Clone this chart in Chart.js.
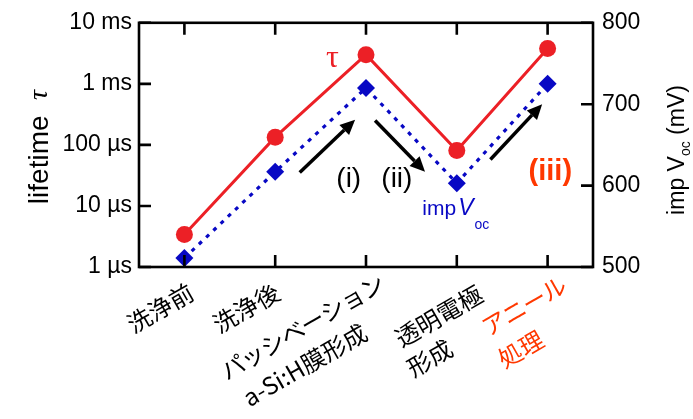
<!DOCTYPE html>
<html>
<head>
<meta charset="utf-8">
<script src="https://cdn.jsdelivr.net/npm/chart.js@4.4.1/dist/chart.umd.min.js"></script>
<style>
  html, body { margin: 0; padding: 0; background: #fff; }
  canvas { display: block; }
</style>
</head>
<body>
<canvas id="grafica" width="693" height="419"></canvas>
<script>
// --- DATOS ---
const categorias = [['洗浄前'], ['洗浄後'], ['パッシベーション', 'a-Si:H膜形成'], ['透明電極', '形成'], ['アニール', '処理']];
const tau = [3.4, 134, 3000, 81, 3800];      // µs
const impVoc = [511, 617, 720, 603, 725];    // mV
const ticksTau = [1, 10, 100, 1000, 10000];
const etiquetasTau = ['1 µs', '10 µs', '100 µs', '1 ms', '10 ms'];
const ticksVoc = [500, 600, 700, 800];

// --- ESTILOS / POSICIONES DE ANOTACIONES ---
const ROJO = 'rgb(236, 32, 38)';
const AZUL = 'rgb(8, 8, 196)';
const NARANJA = 'rgb(255, 56, 0)';

// flechas en [indice categoria, mV]
const flechas = [
    [[1.27, 616], [1.88, 681]],
    [[2.10, 680], [2.65, 617]],
    [[3.37, 632], [3.94, 700]]
];
// desplazamiento del centro de cada linea de etiqueta respecto al tick (px)
const posEtiquetas = [
    [[-24, 41]],
    [[-29, 41]],
    [[-64, 60], [-61, 98]],
    [[-18, 49], [-27, 91]],
    [[-24, 39], [-27, 82]]
];

function dibujarFlecha(ctx, x0, y0, x1, y1) {
    const ang = Math.atan2(y1 - y0, x1 - x0);
    const largo = 15, ancho = 7;
    const xb = x1 - largo * Math.cos(ang), yb = y1 - largo * Math.sin(ang);
    ctx.beginPath();
    ctx.moveTo(x0, y0);
    ctx.lineTo(xb, yb);
    ctx.stroke();
    ctx.beginPath();
    ctx.moveTo(x1, y1);
    ctx.lineTo(xb + ancho * Math.sin(ang), yb - ancho * Math.cos(ang));
    ctx.lineTo(xb - ancho * Math.sin(ang), yb + ancho * Math.cos(ang));
    ctx.closePath();
    ctx.fill();
}

// --- PLUGIN: marco, ticks hacia dentro, etiquetas y anotaciones ---
const pluginDecoracion = {
    id: 'decoracion',
    afterDraw(chart) {
        const ctx = chart.ctx;
        const a = chart.chartArea;
        const sx = chart.scales.x, sy = chart.scales.y, sv = chart.scales.y2;
        const tl = 12;

        ctx.save();
        ctx.strokeStyle = '#000';
        ctx.lineWidth = 2.6;
        ctx.strokeRect(a.left, a.top, a.right - a.left, a.bottom - a.top);

        ctx.beginPath();
        categorias.forEach((c, i) => {
            const x = sx.getPixelForValue(i);
            ctx.moveTo(x, a.top); ctx.lineTo(x, a.top + tl);
            ctx.moveTo(x, a.bottom); ctx.lineTo(x, a.bottom - tl);
        });
        ticksTau.forEach(v => {
            const y = sy.getPixelForValue(v);
            ctx.moveTo(a.left, y); ctx.lineTo(a.left + tl, y);
        });
        ticksVoc.forEach(v => {
            const y = sv.getPixelForValue(v);
            ctx.moveTo(a.right, y); ctx.lineTo(a.right - tl, y);
        });
        ctx.stroke();

        // etiquetas del eje x, giradas 30 grados
        ctx.font = '24px "Noto Sans CJK JP"';
        ctx.textAlign = 'center';
        ctx.textBaseline = 'middle';
        categorias.forEach((lineas, i) => {
            const x = sx.getPixelForValue(i);
            ctx.fillStyle = i === categorias.length - 1 ? NARANJA : '#000';
            lineas.forEach((txt, j) => {
                const [dx, dy] = posEtiquetas[i][j];
                ctx.save();
                ctx.translate(x + dx, a.bottom + dy);
                ctx.rotate(-30 * Math.PI / 180);
                ctx.letterSpacing = /[ァ-ン]/.test(txt) ? '-1px' : '0px';
                ctx.fillText(txt, 0, 0);
                ctx.restore();
            });
        });

        // titulo eje izquierdo
        ctx.save();
        ctx.translate(40, 147);
        ctx.rotate(-Math.PI / 2);
        ctx.fillStyle = '#000';
        ctx.textBaseline = 'middle';
        ctx.textAlign = 'left';
        ctx.font = '28px "Liberation Sans"';
        const w1 = ctx.measureText('lifetime  ').width;
        ctx.font = 'italic 28px "Liberation Serif"';
        const w2 = ctx.measureText('τ').width;
        let x0 = -(w1 + w2) / 2;
        ctx.font = '28px "Liberation Sans"';
        ctx.fillText('lifetime  ', x0, 0);
        ctx.font = 'italic 28px "Liberation Serif"';
        ctx.fillText('τ', x0 + w1, 0);
        ctx.restore();

        // titulo eje derecho
        ctx.save();
        ctx.translate(684, 150);
        ctx.rotate(-Math.PI / 2);
        ctx.fillStyle = '#000';
        ctx.textBaseline = 'alphabetic';
        ctx.textAlign = 'left';
        const partes = [['imp V', '23px "Liberation Sans"', 0], ['oc', '14px "Liberation Sans"', 6], [' (mV)', '23px "Liberation Sans"', 0]];
        let total = 0;
        partes.forEach(p => { ctx.font = p[1]; total += ctx.measureText(p[0]).width; });
        let xp = -total / 2;
        partes.forEach(p => {
            ctx.font = p[1];
            ctx.fillText(p[0], xp, p[2]);
            xp += ctx.measureText(p[0]).width;
        });
        ctx.restore();

        // anotaciones dentro del grafico
        const px = i => sx.getPixelForValue(i);
        const py = v => sv.getPixelForValue(v);

        ctx.fillStyle = '#000';
        ctx.strokeStyle = '#000';
        ctx.lineWidth = 3.5;
        flechas.forEach(([p0, p1]) => dibujarFlecha(ctx, px(p0[0]), py(p0[1]), px(p1[0]), py(p1[1])));

        ctx.textAlign = 'center';
        ctx.textBaseline = 'middle';
        ctx.font = '28px "Liberation Sans"';
        ctx.fillText('(i)', px(1.81), py(608));
        ctx.fillText('(ii)', px(2.34), py(608));

        ctx.fillStyle = NARANJA;
        ctx.font = 'bold 29px "Liberation Sans"';
        ctx.fillText('(iii)', px(4.03), py(617));

        ctx.fillStyle = ROJO;
        ctx.font = '32px "Liberation Serif"';
        ctx.fillText('τ', px(1.63), py(756));

        // imp V_oc
        ctx.fillStyle = AZUL;
        ctx.textAlign = 'left';
        ctx.textBaseline = 'alphabetic';
        let xi = px(2.62);
        const yi = py(564);
        ctx.font = '21px "Liberation Sans"';
        ctx.fillText('imp', xi, yi);
        xi += ctx.measureText('imp').width + 2;
        ctx.font = 'italic 23px "Liberation Sans"';
        ctx.fillText('V', xi, yi);
        xi += ctx.measureText('V').width + 1;
        ctx.font = '14px "Liberation Sans"';
        ctx.fillText('oc', xi, yi + 14);

        ctx.restore();
    }
};

// --- GRAFICA ---
const ctx = document.getElementById('grafica').getContext('2d');
new Chart(ctx, {
    type: 'line',
    data: {
        labels: categorias,
        datasets: [{
            label: 'τ',
            data: tau,
            yAxisID: 'y',
            borderColor: ROJO,
            backgroundColor: ROJO,
            borderWidth: 3,
            pointStyle: 'circle',
            pointRadius: 8.5,
            pointBorderWidth: 0,
            tension: 0
        }, {
            label: 'impVoc',
            data: impVoc,
            yAxisID: 'y2',
            borderColor: AZUL,
            backgroundColor: AZUL,
            borderWidth: 3.2,
            borderDash: [4, 6],
            pointStyle: 'rectRot',
            pointRadius: 9,
            pointBorderWidth: 0,
            tension: 0
        }]
    },
    options: {
        responsive: false,
        animation: false,
        devicePixelRatio: 1,
        layout: { padding: { top: 19, bottom: 152, left: 0, right: 0 } },
        plugins: { legend: { display: false }, tooltip: { enabled: false } },
        scales: {
            x: {
                offset: true,
                grid: { display: false },
                border: { display: false },
                ticks: { display: false },
                afterFit: s => { s.height = 0; }
            },
            y: {
                type: 'logarithmic',
                position: 'left',
                min: 1,
                max: 10000,
                grid: { display: false, drawTicks: false },
                border: { display: false },
                afterBuildTicks: s => { s.ticks = ticksTau.map(v => ({ value: v })); },
                ticks: {
                    padding: 7,
                    color: '#000',
                    font: { family: 'Liberation Sans', size: 23 },
                    callback: (v) => etiquetasTau[ticksTau.indexOf(v)]
                },
                afterFit: s => { s.width = 139; }
            },
            y2: {
                type: 'linear',
                position: 'right',
                min: 500,
                max: 800,
                grid: { display: false, drawTicks: false },
                border: { display: false },
                afterBuildTicks: s => { s.ticks = ticksVoc.map(v => ({ value: v })); },
                ticks: {
                    padding: 9,
                    color: '#000',
                    font: { family: 'Liberation Sans', size: 23 }
                },
                afterFit: s => { s.width = 100; }
            }
        }
    },
    plugins: [pluginDecoracion]
});
</script>
</body>
</html>
